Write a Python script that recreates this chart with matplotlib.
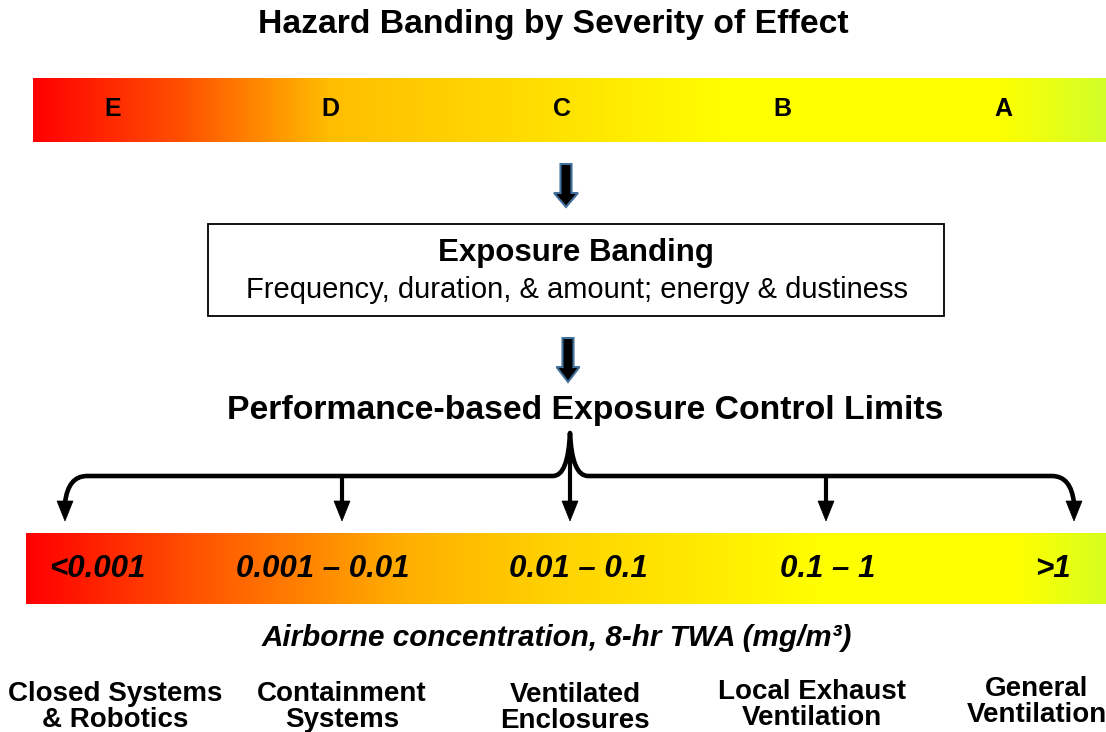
import numpy as np
import matplotlib
matplotlib.use('Agg')
import matplotlib.pyplot as plt
from matplotlib.colors import LinearSegmentedColormap
from matplotlib.patches import Rectangle, Polygon, PathPatch
from matplotlib.path import Path

plt.rcParams['font.family'] = ['Liberation Sans', 'DejaVu Sans']

# chart content
title = 'Hazard Banding by Severity of Effect'
hazard_bands = ['E', 'D', 'C', 'B', 'A']
box_title = 'Exposure Banding'
box_text = 'Frequency, duration, & amount; energy & dustiness'
limits_title = 'Performance-based Exposure Control Limits'
oel_ranges = ['<0.001', '0.001 – 0.01', '0.01 – 0.1', '0.1 – 1', '>1']
units_label = 'Airborne concentration, 8-hr TWA (mg/m³)'
controls = ['Closed Systems\n& Robotics', 'Containment\nSystems', 'Ventilated\nEnclosures',
            'Local Exhaust\nVentilation', 'General\nVentilation']

# layout (pixel coords, y down)
band_x = [113, 330, 562, 782, 1003]
range_x = [97, 323, 578, 828, 1053]
control_x = [115, 342, 575, 812, 1037]
control_y = [707, 707, 708, 705, 702]
branch_x = [65, 342, 570, 826, 1074]

top_stops = [(0.0, (255, 0, 0)), (0.137, (255, 80, 0)), (0.277, (255, 190, 0)),
             (0.46, (255, 220, 0)), (0.65, (255, 255, 0)), (0.90, (255, 255, 0)),
             (1.0, (210, 255, 40))]
bottom_stops = [(0.0, (255, 0, 0)), (0.16, (255, 85, 0)), (0.255, (255, 130, 0)),
                (0.35, (255, 175, 0)), (0.49, (255, 210, 0)), (0.74, (255, 255, 0)),
                (0.92, (255, 255, 0)), (1.0, (215, 255, 30))]


def make_cmap(name, stops):
    return LinearSegmentedColormap.from_list(
        name, [(p, tuple(c / 255 for c in rgb)) for p, rgb in stops])


fig = plt.figure(figsize=(11.06, 7.32), dpi=100)
ax = fig.add_axes([0, 0, 1, 1])
ax.set_xlim(0, 1106)
ax.set_ylim(732, 0)
ax.axis('off')

grad = np.linspace(0, 1, 512).reshape(1, -1)

# top hazard bar
ax.imshow(grad, cmap=make_cmap('top', top_stops), aspect='auto',
          extent=[33, 1106, 142, 78], zorder=1)
ax.text(553, 24, title, ha='center', va='center', fontsize=24.3, fontweight='bold')
for x, lab in zip(band_x, hazard_bands):
    ax.text(x, 109, lab, ha='center', va='center', fontsize=18, fontweight='bold')


def block_arrow(xc, y0, yb, yt, sw, hw):
    pts = [(xc - sw / 2, y0), (xc + sw / 2, y0), (xc + sw / 2, yb), (xc + hw / 2, yb),
           (xc, yt), (xc - hw / 2, yb), (xc - sw / 2, yb)]
    ax.add_patch(Polygon(pts, closed=True, facecolor='black', edgecolor='#41719C',
                         lw=1.5, zorder=3))


block_arrow(566, 164, 193, 207, 11, 24)
block_arrow(568, 338, 367, 382, 11, 23)

# exposure banding box
ax.add_patch(Rectangle((208, 224), 736, 92, facecolor='white', edgecolor='black', lw=1.3))
ax.text(576, 253, box_title, ha='center', va='center', fontsize=22.5, fontweight='bold')
ax.text(577, 290, box_text, ha='center', va='center', fontsize=21)

ax.text(585, 410, limits_title, ha='center', va='center', fontsize=24.3, fontweight='bold')

# bracket
yh = 476
verts = [(branch_x[0], 503), (branch_x[0] + 3, yh), (branch_x[0] + 22, yh),
         (553, yh), (568, yh), (570, 433),
         (572, yh), (588, yh),
         (branch_x[-1] - 22, yh), (branch_x[-1] - 3, yh), (branch_x[-1], 503)]
codes = [Path.MOVETO, Path.CURVE3, Path.CURVE3,
         Path.LINETO, Path.CURVE3, Path.CURVE3,
         Path.CURVE3, Path.CURVE3,
         Path.LINETO, Path.CURVE3, Path.CURVE3]
ax.add_patch(PathPatch(Path(verts, codes), facecolor='none', edgecolor='black',
                       lw=3.3, capstyle='butt', joinstyle='round', zorder=3))
for x in branch_x[1:4]:
    top = 433 if x == 570 else yh
    ax.plot([x, x], [top, 503], color='black', lw=3.0, solid_capstyle='butt', zorder=3)
for x in branch_x:
    ax.add_patch(Polygon([(x - 8, 501), (x + 8, 501), (x, 521)], closed=True,
                         facecolor='black', edgecolor='black', lw=0.5, zorder=3))

# bottom exposure limit bar
ax.imshow(grad, cmap=make_cmap('bottom', bottom_stops), aspect='auto',
          extent=[26, 1106, 604, 533], zorder=1)
for x, lab in zip(range_x, oel_ranges):
    ax.text(x, 569, lab, ha='center', va='center', fontsize=22.5,
            fontweight='bold', fontstyle='italic')

ax.text(557, 638, units_label, ha='center', va='center', fontsize=21.3,
        fontweight='bold', fontstyle='italic')

for x, y, lab in zip(control_x, control_y, controls):
    ax.text(x, y, lab, ha='center', va='center', fontsize=20,
            fontweight='bold', linespacing=1.02)

fig.savefig('out.png', dpi=100)
